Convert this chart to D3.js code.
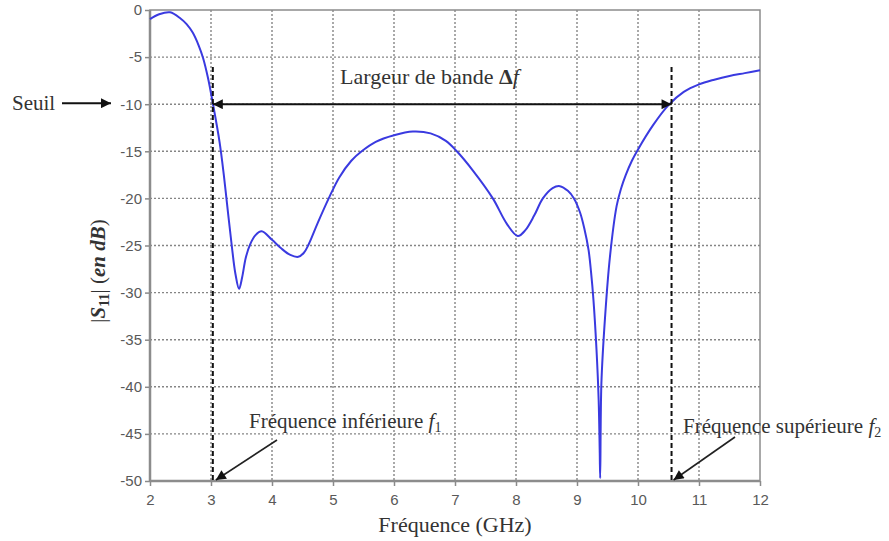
<!DOCTYPE html>
<html>
<head>
<meta charset="utf-8">
<script src="https://cdn.jsdelivr.net/npm/d3@7"></script>
<style>
  html, body { margin: 0; padding: 0; background: #fff; }
  svg { display: block; }
</style>
</head>
<body>
<script>
// ---- Data ----
const freqGHz = [2.00, 2.15, 2.33, 2.50, 2.60, 2.70, 2.80, 2.87, 2.95, 3.03, 3.14, 3.21, 3.28, 3.34, 3.40, 3.46, 3.51, 3.57, 3.64, 3.73, 3.83,
  4.00, 4.15, 4.30, 4.43, 4.52, 4.60, 4.75, 4.93, 5.10, 5.30, 5.47, 5.70, 6.00, 6.31, 6.60, 6.85, 7.03, 7.30, 7.62, 7.85,
  8.03, 8.15, 8.30, 8.44, 8.60, 8.72, 8.85, 8.95, 9.05, 9.12, 9.19, 9.23, 9.27, 9.32, 9.355, 9.372, 9.38, 9.40, 9.46, 9.54, 9.65,
  9.72, 9.80, 9.90, 10.00, 10.25, 10.50, 10.75, 11.00, 11.25, 11.50, 11.75, 12.00];
const s11dB = [-0.96, -0.45, -0.25, -0.9, -1.5, -2.4, -3.8, -5.1, -7.2, -9.9, -14.0, -17.5, -21.6, -25.0, -28.0, -29.6, -28.4, -26.3, -24.9, -23.9, -23.5,
  -24.4, -25.3, -26.0, -26.2, -25.8, -24.9, -22.6, -20.0, -17.8, -16.0, -15.0, -14.0, -13.3, -12.9, -13.1, -13.9, -15.0, -17.1, -20.0, -22.7,
  -24.0, -23.4, -21.8, -20.0, -18.9, -18.7, -19.2, -20.0, -21.5, -23.2, -25.5, -27.8, -30.8, -36.1, -41.4, -46.7, -49.7, -39.6, -32.6, -26.2, -20.8,
  -19.0, -17.5, -16.0, -14.8, -12.2, -10.1, -8.7, -7.9, -7.4, -7.0, -6.7, -6.4];
const xTicks = [2, 3, 4, 5, 6, 7, 8, 9, 10, 11, 12];
const yTicks = [0, -5, -10, -15, -20, -25, -30, -35, -40, -45, -50];
const threshold = -10;
const f1 = 3.03;
const f2 = 10.55;

const W = 889, H = 541;
const svg = d3.select("body").append("svg").attr("width", W).attr("height", H);

const x = d3.scaleLinear().domain([2, 12]).range([150, 760]);
const y = d3.scaleLinear().domain([-50, 0]).range([481, 10]);

const serif = "'Liberation Serif', 'Times New Roman', serif";
const sans = "'Liberation Sans', Arial, sans-serif";

// markers
const defs = svg.append("defs");
defs.append("marker").attr("id", "arr")
  .attr("viewBox", "0 0 10 10").attr("refX", 10).attr("refY", 5)
  .attr("markerWidth", 12).attr("markerHeight", 10)
  .attr("markerUnits", "userSpaceOnUse")
  .attr("orient", "auto-start-reverse")
  .append("path").attr("d", "M0,0 L10,5 L0,10 Z").attr("fill", "#111");

// grid
const grid = svg.append("g");
grid.selectAll(".vg").data(xTicks.slice(1, -1)).join("line")
  .attr("x1", d => x(d)).attr("x2", d => x(d)).attr("y1", y(0)).attr("y2", y(-50))
  .attr("stroke", "#858585").attr("stroke-width", 1.4).attr("stroke-dasharray", "2,2");
grid.selectAll(".hg").data(yTicks.slice(1, -1)).join("line")
  .attr("x1", x(2)).attr("x2", x(12)).attr("y1", d => y(d)).attr("y2", d => y(d))
  .attr("stroke", "#858585").attr("stroke-width", 1.4).attr("stroke-dasharray", "2,2");

// axes
const xAxis = svg.append("g").attr("transform", `translate(0,${y(-50)})`)
  .call(d3.axisBottom(x).tickValues(xTicks).tickSizeInner(5).tickSizeOuter(0).tickPadding(8).tickFormat(d => String(d)));
const yAxis = svg.append("g").attr("transform", `translate(${x(2)},0)`)
  .call(d3.axisLeft(y).tickValues(yTicks).tickSizeInner(5).tickSizeOuter(0).tickPadding(3).tickFormat(d => String(d)));
[xAxis, yAxis].forEach(g => {
  g.select(".domain").remove();
  g.selectAll(".tick line").attr("stroke", "#8a8a8a").attr("stroke-width", 1.5);
  g.selectAll(".tick text").attr("fill", "#595959").attr("font-family", sans).attr("font-size", 15);
});

// frame
svg.append("rect").attr("x", x(2)).attr("y", y(0)).attr("width", x(12) - x(2)).attr("height", y(-50) - y(0))
  .attr("fill", "none").attr("stroke", "#8c8c8c").attr("stroke-width", 1.5);
svg.append("line").attr("x1", x(2)).attr("x2", x(2)).attr("y1", y(0)).attr("y2", y(-50))
  .attr("stroke", "#8c8c8c").attr("stroke-width", 2.5);
svg.append("line").attr("x1", x(2)).attr("x2", x(12)).attr("y1", y(-50)).attr("y2", y(-50))
  .attr("stroke", "#8c8c8c").attr("stroke-width", 2.5);

// curve
const pts = freqGHz.map((f, i) => [f, s11dB[i]]);
svg.append("path").datum(pts)
  .attr("d", d3.line().x(d => x(d[0])).y(d => y(d[1])).curve(d3.curveCatmullRom.alpha(0.5)))
  .attr("fill", "none").attr("stroke", "#3a3ae0").attr("stroke-width", 2);

// dashed band limits
[f1, f2].forEach(f => {
  svg.append("line").attr("x1", x(f)).attr("x2", x(f)).attr("y1", 67).attr("y2", y(-50))
    .attr("stroke", "#111").attr("stroke-width", 2).attr("stroke-dasharray", "5,3");
});

// bandwidth double arrow
svg.append("line").attr("x1", x(f1)).attr("x2", x(f2)).attr("y1", y(threshold)).attr("y2", y(threshold))
  .attr("stroke", "#111").attr("stroke-width", 2)
  .attr("marker-start", "url(#arr)").attr("marker-end", "url(#arr)");

const bw = svg.append("text").attr("x", 340).attr("y", 84)
  .attr("font-family", serif).attr("font-size", 22).attr("fill", "#333");
bw.append("tspan").text("Largeur de bande ");
bw.append("tspan").attr("font-weight", "bold").text("Δ");
bw.append("tspan").attr("font-style", "italic").text("f");

// Seuil
svg.append("text").attr("x", 12).attr("y", 110).attr("font-family", serif).attr("font-size", 21)
  .attr("fill", "#333").text("Seuil");
svg.append("line").attr("x1", 62).attr("x2", 111).attr("y1", y(threshold) - 1).attr("y2", y(threshold) - 1)
  .attr("stroke", "#111").attr("stroke-width", 2).attr("marker-end", "url(#arr)");

// lower freq annotation
const t1 = svg.append("text").attr("x", 249).attr("y", 428)
  .attr("font-family", serif).attr("font-size", 21).attr("fill", "#333");
t1.append("tspan").text("Fréquence inférieure ");
t1.append("tspan").attr("font-style", "italic").text("f");
t1.append("tspan").attr("font-size", 14).attr("dy", 4).text("1");
svg.append("line").attr("x1", 277).attr("y1", 440).attr("x2", x(f1) + 3).attr("y2", y(-50) - 1)
  .attr("stroke", "#222").attr("stroke-width", 1.6).attr("marker-end", "url(#arr)");

// upper freq annotation
const t2 = svg.append("text").attr("x", 683).attr("y", 433)
  .attr("font-family", serif).attr("font-size", 21).attr("fill", "#333");
t2.append("tspan").text("Fréquence supérieure ");
t2.append("tspan").attr("font-style", "italic").text("f");
t2.append("tspan").attr("font-size", 14).attr("dy", 4).text("2");
svg.append("line").attr("x1", 735).attr("y1", 437).attr("x2", x(f2) + 2).attr("y2", y(-50) - 1)
  .attr("stroke", "#222").attr("stroke-width", 1.6).attr("marker-end", "url(#arr)");

// axis titles
svg.append("text").attr("x", (x(2) + x(12)) / 2).attr("y", 532).attr("text-anchor", "middle")
  .attr("font-family", serif).attr("font-size", 22).attr("fill", "#333").text("Fréquence (GHz)");

const yt = svg.append("text").attr("transform", `translate(105,271) rotate(-90)`).attr("text-anchor", "middle")
  .attr("font-family", serif).attr("font-size", 21).attr("fill", "#333");
yt.append("tspan").text("|");
yt.append("tspan").attr("font-weight", "bold").attr("font-style", "italic").text("S");
yt.append("tspan").attr("font-weight", "bold").attr("font-size", 14).attr("dy", 4).text("11");
yt.append("tspan").attr("dy", -4).text("| (");
yt.append("tspan").attr("font-weight", "bold").attr("font-style", "italic").text("en dB");
yt.append("tspan").text(")");
</script>
</body>
</html>
